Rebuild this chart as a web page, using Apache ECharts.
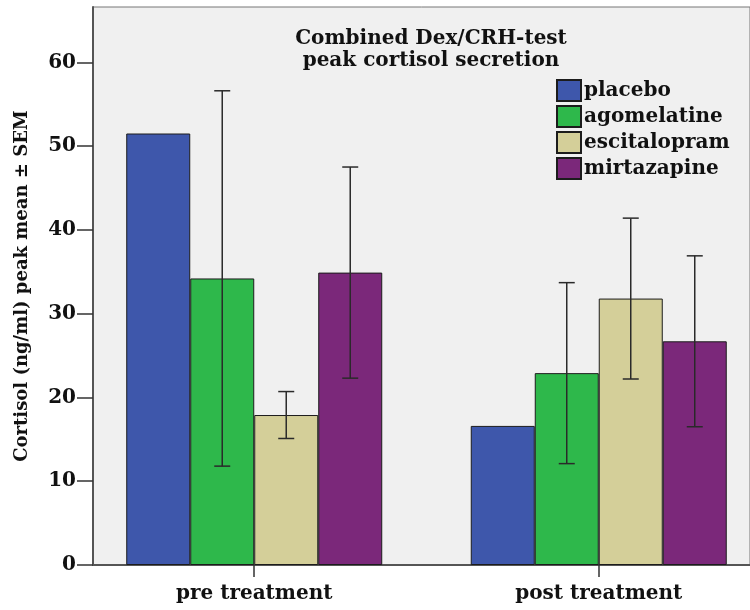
<!DOCTYPE html>
<html>
<head>
<meta charset="utf-8">
<script src="https://cdn.jsdelivr.net/npm/echarts@6/dist/echarts.min.js"></script>
<style>
  html, body { margin: 0; padding: 0; background: #fff; }
  #chart { width: 750px; height: 610px; }
</style>
</head>
<body>
<div id="chart"></div>
<script>
// Peak cortisol (ng/ml), mean and SEM per treatment group
const phases = ['pre treatment', 'post treatment'];
const phasePos = [1, 2];
const groups = ['placebo', 'agomelatine', 'escitalopram', 'mirtazapine'];
const colors = ['#3e57ab', '#2eb84b', '#d4cf99', '#7b287a'];
const placeboMean = [51.5, 16.6];
const agomelatineMean = [34.2, 22.9];
const escitalopramMean = [17.9, 31.8];
const mirtazapineMean = [34.9, 26.7];
const placeboSem = [null, null];
const agomelatineSem = [22.4, 10.8];
const escitalopramSem = [2.8, 9.6];
const mirtazapineSem = [12.6, 10.2];
const yTicks = [0, 10, 20, 30, 40, 50, 60];

const means = [placeboMean, agomelatineMean, escitalopramMean, mirtazapineMean];
const sems = [placeboSem, agomelatineSem, escitalopramSem, mirtazapineSem];

const FONT = 'DejaVu Serif';
const BAR_W = 64;
const CAP = 16;

const barSeries = groups.map((g, k) => ({
  name: g,
  type: 'bar',
  barWidth: BAR_W,
  barGap: '0%',
  data: phasePos.map((x, i) => [x, means[k][i]]),
  itemStyle: { color: colors[k], borderColor: '#1c1c1c', borderWidth: 1 },
  emphasis: { disabled: true },
  z: 2
}));

const errData = [];
groups.forEach((g, k) => {
  phasePos.forEach((x, i) => {
    if (sems[k][i] != null) errData.push([x, means[k][i], sems[k][i], k]);
  });
});

// Error bars: vertical whisker with caps, offset to sit on each group's bar
const errSeries = {
  type: 'custom',
  name: 'sem',
  data: errData,
  z: 5,
  silent: true,
  renderItem: function (params, api) {
    const x = api.value(0), m = api.value(1), s = api.value(2), k = api.value(3);
    const dx = (k - 1.5) * BAR_W;
    const top = api.coord([x, m + s]);
    const bot = api.coord([x, m - s]);
    const cx = top[0] + dx;
    const style = { stroke: '#2a2a2a', lineWidth: 1.5 };
    return {
      type: 'group',
      children: [
        { type: 'line', shape: { x1: cx, y1: top[1], x2: cx, y2: bot[1] }, style },
        { type: 'line', shape: { x1: cx - CAP / 2, y1: top[1], x2: cx + CAP / 2, y2: top[1] }, style },
        { type: 'line', shape: { x1: cx - CAP / 2, y1: bot[1], x2: cx + CAP / 2, y2: bot[1] }, style }
      ]
    };
  }
};

const chart = echarts.init(document.getElementById('chart'), null, { renderer: 'canvas' });
chart.setOption({
  animation: false,
  backgroundColor: '#ffffff',
  title: {
    text: 'Combined Dex/CRH-test\npeak cortisol secretion',
    left: 426,
    top: 23,
    textAlign: 'center',
    textStyle: { fontFamily: FONT, fontWeight: 'bold', fontSize: 20, lineHeight: 22, color: '#111' }
  },
  legend: {
    data: groups,
    orient: 'vertical',
    left: 556,
    top: 79,
    itemWidth: 24,
    itemHeight: 21,
    itemGap: 3,
    icon: 'rect',
    padding: 0,
    textStyle: { fontFamily: FONT, fontWeight: 'bold', fontSize: 20, color: '#111', padding: [0, 0, 0, -2] }
  },
  grid: {
    left: 93, top: 7, right: -5, bottom: 45,
    show: true,
    backgroundColor: '#f0f0f0',
    borderColor: '#777',
    borderWidth: 1
  },
  xAxis: {
    type: 'value',
    min: 0.532,
    max: 2.439,
    splitLine: { show: false },
    axisLine: { show: true, onZero: false, lineStyle: { color: '#555', width: 2 } },
    axisTick: { show: true, length: 12, customValues: phasePos, lineStyle: { color: '#333', width: 1.5 } },
    axisLabel: {
      customValues: phasePos,
      formatter: v => phases[phasePos.indexOf(v)] || '',
      fontFamily: FONT, fontWeight: 'bold', fontSize: 20, color: '#111', margin: 19
    }
  },
  yAxis: {
    type: 'value',
    min: 0,
    max: 66.6,
    splitLine: { show: false },
    axisLine: { show: true, lineStyle: { color: '#555', width: 2 } },
    axisTick: { show: true, length: 16, customValues: yTicks, lineStyle: { color: '#333', width: 1.5 } },
    axisLabel: {
      customValues: yTicks,
      fontFamily: FONT, fontWeight: 'bold', fontSize: 20, color: '#111', margin: 17
    },
    name: 'Cortisol (ng/ml) peak mean \u00b1 SEM',
    nameLocation: 'middle',
    nameGap: 62,
    nameTextStyle: { fontFamily: FONT, fontWeight: 'bold', fontSize: 18, color: '#111' }
  },
  series: barSeries.concat([errSeries])
});
</script>
</body>
</html>
